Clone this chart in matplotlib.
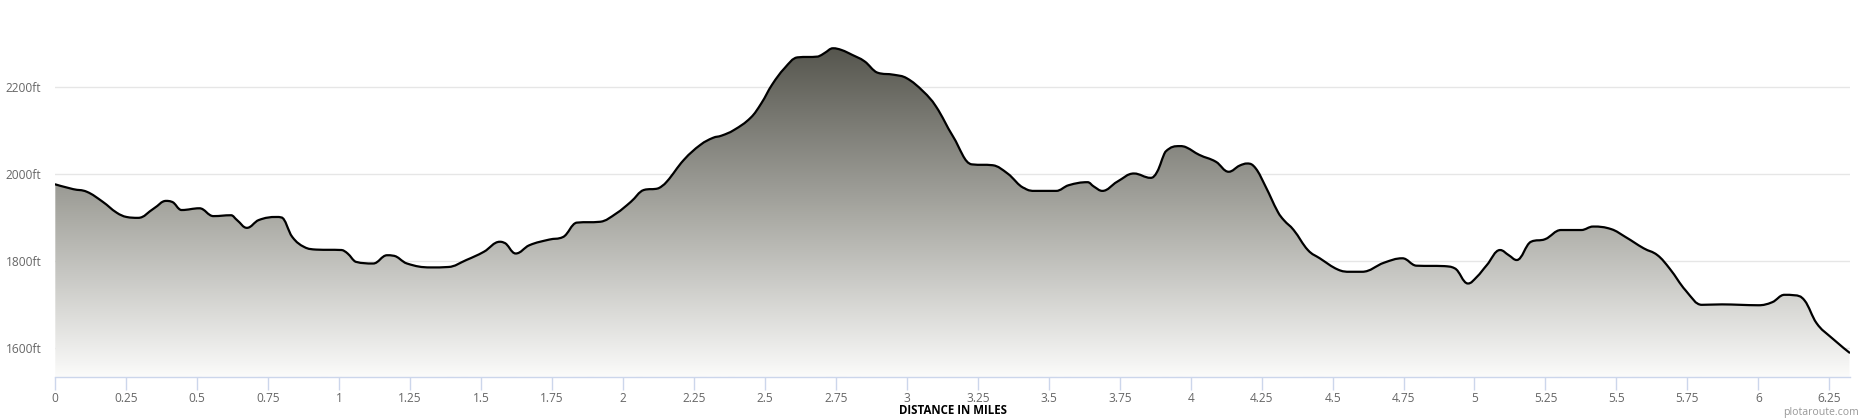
import numpy as np
import matplotlib
matplotlib.use("Agg")
import matplotlib.pyplot as plt
from matplotlib.colors import LinearSegmentedColormap
from matplotlib.patches import PathPatch
from matplotlib.path import Path

distance_mi = [
    0.000, 0.063, 0.111, 0.167, 0.216, 0.251, 0.292, 0.348, 0.390, 0.410,
    0.445, 0.508, 0.557, 0.619, 0.640, 0.675, 0.717, 0.780, 0.796, 0.835,
    0.877, 0.919, 1.009, 1.030, 1.058, 1.120, 1.169, 1.190, 1.239, 1.322,
    1.385, 1.448, 1.510, 1.566, 1.580, 1.622, 1.670, 1.740, 1.789, 1.837,
    1.920, 1.976, 2.028, 2.073, 2.125, 2.154, 2.214, 2.273, 2.317, 2.347,
    2.391, 2.451, 2.488, 2.525, 2.569, 2.614, 2.688, 2.710, 2.740, 2.770,
    2.807, 2.851, 2.896, 2.955, 3.000, 3.059, 3.103, 3.163, 3.229, 3.303,
    3.355, 3.415, 3.452, 3.526, 3.570, 3.637, 3.659, 3.689, 3.741, 3.800,
    3.859, 3.882, 3.911, 3.963, 3.985, 4.030, 4.089, 4.134, 4.172, 4.200,
    4.229, 4.264, 4.307, 4.328, 4.363, 4.413, 4.455, 4.519, 4.562, 4.604,
    4.682, 4.746, 4.795, 4.894, 4.930, 4.977, 5.008, 5.043, 5.090, 5.121,
    5.149, 5.199, 5.249, 5.305, 5.376, 5.418, 5.482, 5.532, 5.596, 5.645,
    5.688, 5.744, 5.801, 5.872, 5.936, 6.000, 6.049, 6.092, 6.127, 6.163,
    6.205, 6.255, 6.321,
]
elevation_ft = [
    1977, 1966, 1960, 1937, 1912, 1902, 1900, 1922, 1939, 1937,
    1918, 1922, 1904, 1906, 1895, 1877, 1895, 1902, 1901, 1856,
    1833, 1827, 1826, 1818, 1799, 1795, 1814, 1813, 1795, 1786,
    1787, 1803, 1822, 1845, 1843, 1818, 1837, 1850, 1856, 1889,
    1891, 1910, 1937, 1964, 1968, 1983, 2033, 2068, 2084, 2089,
    2102, 2131, 2164, 2206, 2244, 2269, 2271, 2279, 2290, 2286,
    2275, 2260, 2234, 2229, 2221, 2190, 2156, 2087, 2023, 2021,
    2002, 1968, 1962, 1962, 1975, 1982, 1972, 1962, 1983, 2002,
    1992, 2006, 2052, 2065, 2062, 2045, 2029, 2006, 2020, 2025,
    2014, 1972, 1914, 1895, 1872, 1826, 1807, 1781, 1776, 1776,
    1797, 1807, 1790, 1789, 1784, 1749, 1764, 1791, 1826, 1814,
    1803, 1845, 1851, 1872, 1872, 1880, 1874, 1856, 1830, 1814,
    1783, 1733, 1700, 1701, 1700, 1699, 1706, 1723, 1722, 1710,
    1658, 1626, 1590,
]

x_ticks = [0, 0.25, 0.5, 0.75, 1, 1.25, 1.5, 1.75, 2, 2.25, 2.5, 2.75, 3,
           3.25, 3.5, 3.75, 4, 4.25, 4.5, 4.75, 5, 5.25, 5.5, 5.75, 6, 6.25]
x_tick_labels = ["0", "0.25", "0.5", "0.75", "1", "1.25", "1.5", "1.75", "2",
                 "2.25", "2.5", "2.75", "3", "3.25", "3.5", "3.75", "4",
                 "4.25", "4.5", "4.75", "5", "5.25", "5.5", "5.75", "6", "6.25"]
y_ticks = [1600, 1800, 2000, 2200]
y_tick_labels = ["1600ft", "1800ft", "2000ft", "2200ft"]


def spline_path(xs, ys, smoothing=1.5):
    """Highcharts-style spline: cubic Bezier segments through the data points."""
    n = len(xs)
    verts = [(xs[0], ys[0])]
    codes = [Path.MOVETO]
    right_ctrl = (xs[0], ys[0])
    for i in range(1, n):
        px, py = xs[i], ys[i]
        if i < n - 1:
            lx, ly = xs[i - 1], ys[i - 1]
            nx, ny = xs[i + 1], ys[i + 1]
            d = smoothing + 1
            lcx = (smoothing * px + lx) / d
            lcy = (smoothing * py + ly) / d
            rcx = (smoothing * px + nx) / d
            rcy = (smoothing * py + ny) / d
            if rcx != lcx:
                corr = ((rcy - lcy) * (rcx - px)) / (rcx - lcx) + py - rcy
            else:
                corr = 0
            lcy += corr
            rcy += corr
            if lcy > ly and lcy > py:
                lcy = max(ly, py); rcy = 2 * py - lcy
            elif lcy < ly and lcy < py:
                lcy = min(ly, py); rcy = 2 * py - lcy
            if rcy > ny and rcy > py:
                rcy = max(ny, py); lcy = 2 * py - rcy
            elif rcy < ny and rcy < py:
                rcy = min(ny, py); lcy = 2 * py - rcy
            left_ctrl = (lcx, lcy)
            new_right = (rcx, rcy)
        else:
            left_ctrl = (px, py)
            new_right = (px, py)
        verts += [right_ctrl, left_ctrl, (px, py)]
        codes += [Path.CURVE4, Path.CURVE4, Path.CURVE4]
        right_ctrl = new_right
    return verts, codes


W, H = 1870, 420
fig = plt.figure(figsize=(W / 100, H / 100), dpi=100)
fig.patch.set_facecolor("white")
left, right, bottom_px = 55.3, 1850.0, 377.0
ax = fig.add_axes([left / W, 1 - bottom_px / H, (right - left) / W, bottom_px / H])

xmin, xmax = 0.0, 6.323
ymin, ymax = 1534, 2401
ax.set_xlim(xmin, xmax)
ax.set_ylim(ymin, ymax)

x = np.array(distance_mi, dtype=float)
y = np.array(elevation_ft, dtype=float)

for yt in y_ticks:
    ax.axhline(yt, color="#e6e6e6", lw=1.0, zorder=0)

line_verts, line_codes = spline_path(x, y)

cmap = LinearSegmentedColormap.from_list(
    "elev", ["#56564e", "#a8a8a2", "#fbfbfa"])
grad = np.linspace(0, 1, 256).reshape(-1, 1)
img = ax.imshow(grad, cmap=cmap, aspect="auto",
                extent=[xmin, xmax, ymin, y.max()], origin="upper",
                zorder=1, interpolation="bilinear")
area_verts = line_verts + [(x[-1], ymin), (x[0], ymin), (x[0], y[0])]
area_codes = line_codes + [Path.LINETO, Path.LINETO, Path.CLOSEPOLY]
area = PathPatch(Path(area_verts, area_codes), facecolor="none",
                 edgecolor="none", transform=ax.transData)
ax.add_patch(area)
img.set_clip_path(area)

ax.add_patch(PathPatch(Path(line_verts, line_codes), facecolor="none",
                       edgecolor="black", lw=1.6, zorder=3,
                       joinstyle="round", capstyle="round"))

for s in ["top", "right", "left"]:
    ax.spines[s].set_visible(False)
ax.spines["bottom"].set_color("#ccd6eb")
ax.spines["bottom"].set_linewidth(1.0)
ax.spines["bottom"].set_zorder(4)

ax.set_xticks(x_ticks)
ax.set_xticklabels(x_tick_labels)
ax.set_yticks(y_ticks)
ax.set_yticklabels(y_tick_labels)
ax.tick_params(axis="x", length=9, width=1, color="#ccd6eb", pad=2,
               labelsize=8.6, labelcolor="#666666")
ax.tick_params(axis="y", length=0, pad=10, labelsize=8.6, labelcolor="#666666")
for lab in ax.get_xticklabels() + ax.get_yticklabels():
    lab.set_fontfamily("Open Sans")

fig.text((left + right) / 2 / W, 1 - 411 / H, "DISTANCE IN MILES",
         ha="center", va="center", fontsize=8.3, fontweight="bold",
         color="black", family="Open Sans")
fig.text(1859 / W, 1 - 412 / H, "plotaroute.com", ha="right", va="center",
         fontsize=7.6, color="#999999", family="Open Sans")

fig.savefig("out.png", dpi=100, facecolor="white")
